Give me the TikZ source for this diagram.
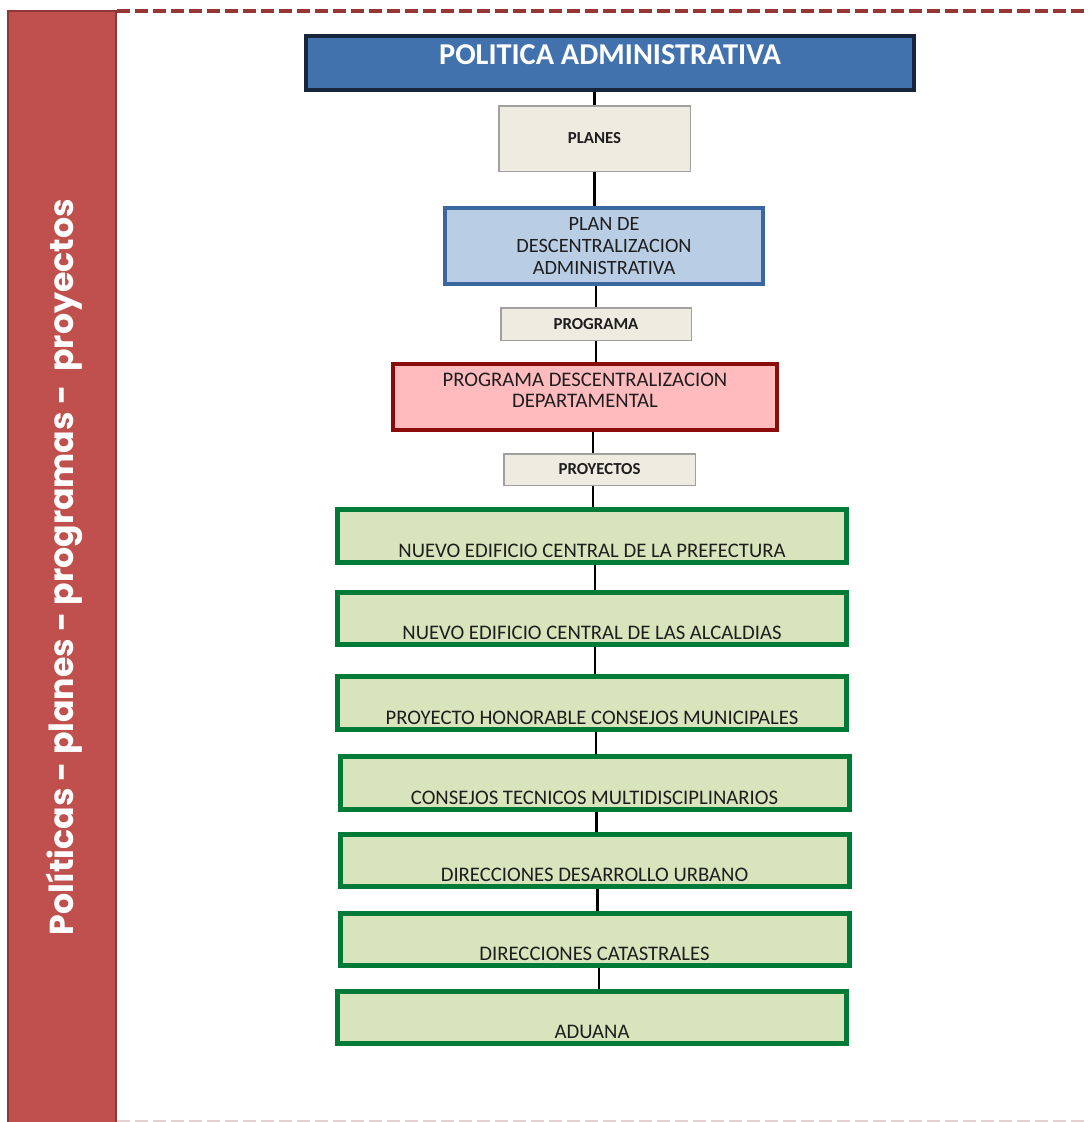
\documentclass[tikz,border=0pt]{standalone}
\usepackage{fontspec}
\setmainfont{Carlito}
\newfontfamily\sidefont{Poppins}
\usepackage{tikz}
\usetikzlibrary{positioning}

\definecolor{barred}{RGB}{192,80,77}
\definecolor{barline}{RGB}{140,56,54}
\definecolor{dashred}{RGB}{149,55,53}
\definecolor{dashpink}{RGB}{228,208,208}
\definecolor{titleblue}{RGB}{66,114,174}
\definecolor{titleline}{RGB}{23,37,58}
\definecolor{grayfill}{RGB}{238,236,225}
\definecolor{grayline}{RGB}{160,160,160}
\definecolor{planfill}{RGB}{185,205,229}
\definecolor{planline}{RGB}{58,103,158}
\definecolor{rosefill}{RGB}{255,187,190}
\definecolor{roseline}{RGB}{139,10,10}
\definecolor{greenfill}{RGB}{216,228,188}
\definecolor{greenline}{RGB}{0,122,55}
\definecolor{boxtext}{RGB}{30,30,30}

\begin{document}
\begin{tikzpicture}[x=1pt,y=-1pt,
    link/.style={draw=black,line width=2.2pt},
    graybox/.style={rectangle,draw=grayline,fill=grayfill,line width=1.5pt,
      text=boxtext,font=\fontsize{16.8}{20}\selectfont\bfseries},
    greenbox/.style={rectangle,draw=greenline,fill=greenfill,line width=5pt,
      minimum width=509pt,text height=47.5pt,text depth=5pt,
      text=boxtext,font=\fontsize{20.7}{23}\selectfont}]
      \tikzstyle{every node}+=[inner sep=0pt]
      \useasboundingbox (0,0) rectangle (1088,1122);
      \fill [barred] (8,11) rectangle (116,1124);
      \draw [barline,line width=2pt] (8,1124) -- (8,11) -- (116,11) -- (116,1124);
      \draw [dashred,line width=4pt,dash pattern=on 13pt off 5pt] (117,11) -- (1088,11);
      \draw [dashpink,line width=1.5pt,dash pattern=on 13pt off 5pt] (117,1121) -- (1088,1121);
      \node (lado) at (64,567) [rotate=90,text=white,font=\sidefont\fontsize{33.2}{38}\selectfont\bfseries]
        {Políticas - planes - programas -\ \ proyectos};
      \node (titulo) at (610,63) [rectangle,draw=titleline,fill=titleblue,line width=4pt,
        minimum width=608pt,text height=28pt,text depth=26pt,text=white,
        font=\fontsize{30.3}{34}\selectfont\bfseries] {POLITICA ADMINISTRATIVA};
      \node (planes) at (594.5,138.5) [graybox,minimum width=191.5pt,minimum height=65.5pt] {PLANES};
      \node (plan) at (604,246) [rectangle,draw=planline,fill=planfill,line width=4pt,
        minimum width=318pt,minimum height=76pt,align=center,text=boxtext,
        font=\fontsize{20.3}{22}\selectfont] {PLAN DE\\DESCENTRALIZACION\\ADMINISTRATIVA};
      \node (programa) at (596,324) [graybox,minimum width=190.5pt,minimum height=32.5pt] {PROGRAMA};
      \node (depto) at (585,397) [rectangle,draw=roseline,fill=rosefill,line width=4pt,
        minimum width=384pt,text height=22pt,text depth=44pt,text=boxtext,
        font=\fontsize{20.7}{21}\selectfont]
        {\begin{tabular}[t]{@{}c@{}}PROGRAMA DESCENTRALIZACION\\DEPARTAMENTAL\end{tabular}};
      \node (proyectos) at (599.5,469.5) [graybox,minimum width=191.5pt,minimum height=31.5pt] {PROYECTOS};
      \node (prefectura) at (592,536) [greenbox] {NUEVO EDIFICIO CENTRAL DE LA PREFECTURA};
      \node (alcaldias) at (592,618.5) [greenbox] {NUEVO EDIFICIO CENTRAL DE LAS ALCALDIAS};
      \node (municipales) at (592,703) [greenbox] {PROYECTO HONORABLE CONSEJOS MUNICIPALES};
      \node (tecnicos) at (594.5,783) [greenbox] {CONSEJOS TECNICOS MULTIDISCIPLINARIOS};
      \node (urbano) at (594.5,860.5) [greenbox] {DIRECCIONES DESARROLLO URBANO};
      \node (catastro) at (594.5,939.5) [greenbox] {DIRECCIONES CATASTRALES};
      \node (aduana) at (592,1017.5) [greenbox] {ADUANA};
      \draw [link] (titulo.south -| planes) -- (planes.north);
      \draw [link] (planes.south) -- (planes.south |- plan.north);
      \draw [link] (plan.south -| programa) -- (programa.north);
      \draw [link] (programa.south) -- (programa.south |- depto.north);
      \draw [link] ([xshift=1pt]depto.south -| prefectura) -- ([xshift=1pt]prefectura.north |- proyectos.north);
      \draw [link] ([xshift=1pt]proyectos.south -| prefectura) -- ([xshift=1pt]prefectura.north);
      \draw [link] ([xshift=3pt]prefectura.south) -- ([xshift=3pt]alcaldias.north);
      \draw [link] ([xshift=3pt]alcaldias.south) -- ([xshift=3pt]municipales.north);
      \draw [link] ([xshift=4pt]municipales.south) -- ([xshift=1.5pt]tecnicos.north);
      \draw [link] ([xshift=2pt]tecnicos.south) -- ([xshift=2pt]urbano.north);
      \draw [link] ([xshift=3pt]urbano.south) -- ([xshift=3pt]catastro.north);
      \draw [link] ([xshift=4.5pt]catastro.south) -- ([xshift=7pt]aduana.north);
\end{tikzpicture}
\end{document}
